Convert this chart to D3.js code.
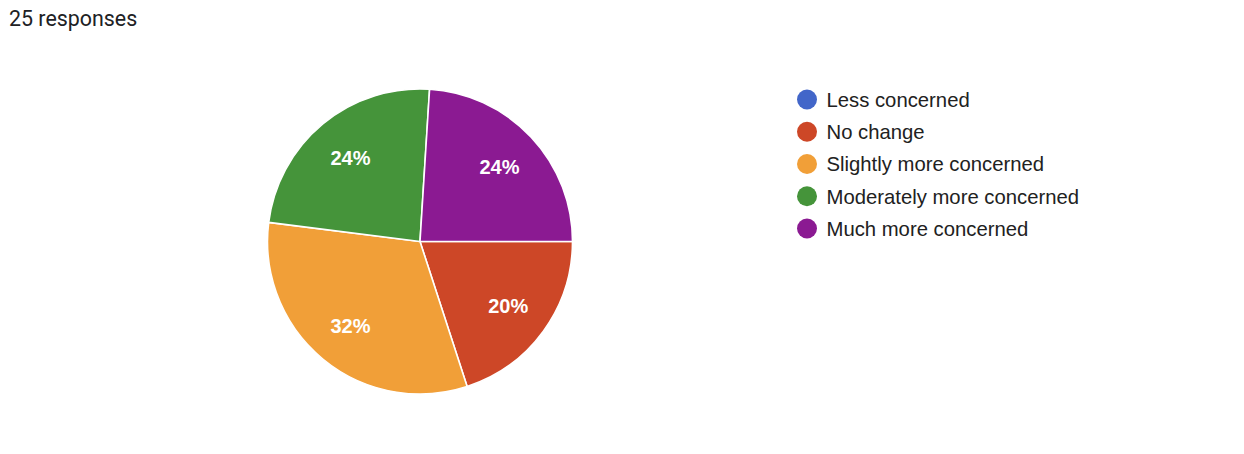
<!DOCTYPE html>
<html>
<head>
<meta charset="utf-8">
<script src="https://cdn.jsdelivr.net/npm/d3@7"></script>
<style>
  html, body { margin: 0; padding: 0; background: #fff; }
  svg { display: block; }
</style>
</head>
<body>
<div id="chart"></div>
<script>
// --- Data ---
const categories = ["Less concerned", "No change", "Slightly more concerned", "Moderately more concerned", "Much more concerned"];
const counts = [0, 5, 8, 6, 6];
const colors = ["#4266c9", "#cd4727", "#f19f38", "#45943a", "#8b1a92"];
const totalLabel = "25 responses";

const W = 1244, H = 454;
const cx = 420, cy = 241.5, radius = 152.5;

const svg = d3.select("#chart").append("svg")
  .attr("width", W)
  .attr("height", H);

// Title
svg.append("text")
  .attr("x", 9)
  .attr("y", 26)
  .attr("font-family", "Roboto, 'Noto Sans', sans-serif")
  .attr("font-size", 21.4)
  .attr("fill", "#202124")
  .text(totalLabel);

const rows = categories.map((name, i) => ({ name, value: counts[i], color: colors[i] }));
const total = d3.sum(counts);

// Pie starts at 3 o'clock, clockwise in legend order
const pie = d3.pie()
  .value(d => d.value)
  .sort(null)
  .startAngle(Math.PI / 2)
  .endAngle(Math.PI / 2 + 2 * Math.PI);

const arc = d3.arc().innerRadius(0).outerRadius(radius);
const labelArc = d3.arc().innerRadius(radius * 0.715).outerRadius(radius * 0.715);

const g = svg.append("g").attr("transform", `translate(${cx},${cy})`);
const slices = pie(rows).filter(d => d.data.value > 0);

g.selectAll("path")
  .data(slices)
  .join("path")
    .attr("d", arc)
    .attr("fill", d => d.data.color)
    .attr("stroke", "#fff")
    .attr("stroke-width", 1.6)
    .attr("stroke-linejoin", "round");

g.selectAll("text")
  .data(slices)
  .join("text")
    .attr("transform", d => `translate(${labelArc.centroid(d)})`)
    .attr("text-anchor", "middle")
    .attr("dy", "0.36em")
    .attr("font-family", "'Liberation Sans', Arial, sans-serif")
    .attr("font-weight", "bold")
    .attr("font-size", 20)
    .attr("fill", "#fff")
    .text(d => Math.round(d.data.value / total * 100) + "%");

// Legend
const legendY = d3.scalePoint()
  .domain(categories)
  .range([99.5, 228.5]);

const legend = svg.append("g");
const item = legend.selectAll("g")
  .data(rows)
  .join("g")
    .attr("transform", d => `translate(807,${legendY(d.name)})`);

item.append("circle")
  .attr("r", 10)
  .attr("fill", d => d.color);

item.append("text")
  .attr("x", 19.5)
  .attr("dy", "0.36em")
  .attr("font-family", "'Liberation Sans', Arial, sans-serif")
  .attr("font-size", 20.3)
  .attr("fill", "#212121")
  .text(d => d.name);
</script>
</body>
</html>
